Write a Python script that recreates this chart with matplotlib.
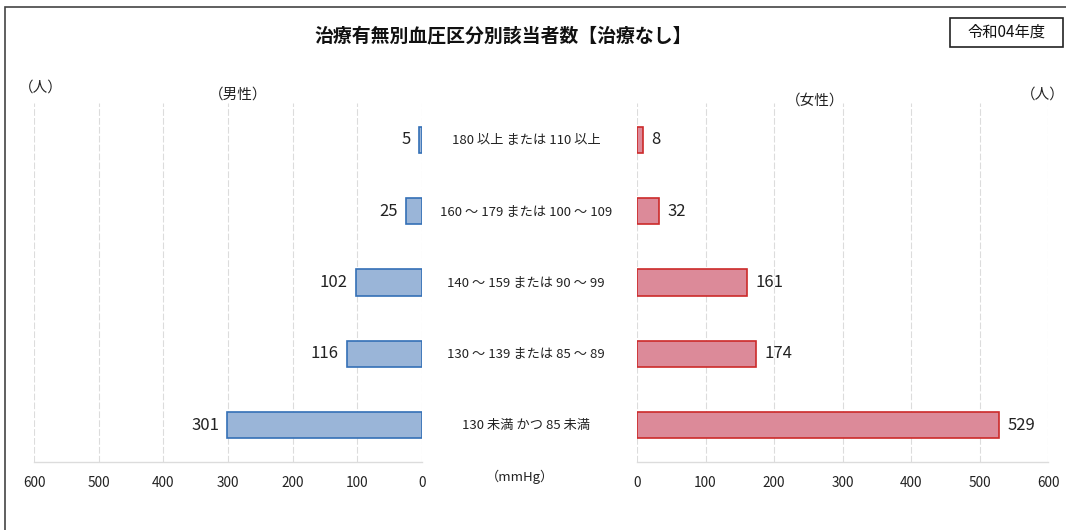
import matplotlib
matplotlib.use("Agg")
from matplotlib import pyplot as plt
from matplotlib.patches import Rectangle

plt.rcParams['font.family'] = ['Noto Sans CJK JP', 'DejaVu Sans']

# categories listed top to bottom
categories = ["180 以上 または 110 以上",
              "160 ～ 179 または 100 ～ 109",
              "140 ～ 159 または 90 ～ 99",
              "130 ～ 139 または 85 ～ 89",
              "130 未満 かつ 85 未満"]
male = [5, 25, 102, 116, 301]
female = [8, 32, 161, 174, 529]
ticks = [0, 100, 200, 300, 400, 500, 600]

title = "治療有無別血圧区分別該当者数【治療なし】"
year_label = "令和04年度"

BLUE_FILL = "#9ab5d8"
BLUE_EDGE = "#3470b6"
PINK_FILL = "#dc8a99"
PINK_EDGE = "#cc2a2a"
GRID = "#dcdcdc"

fig = plt.figure(figsize=(10.66, 5.30), dpi=100)
fig.patch.set_facecolor("white")

ax_l = fig.add_axes([0.032, 0.128, 0.364, 0.678])
ax_r = fig.add_axes([0.5976, 0.128, 0.3856, 0.678])

n = len(categories)
ypos = [n - 1 - i for i in range(n)]

ax_l.barh(ypos, male, height=0.37, color=BLUE_FILL, edgecolor=BLUE_EDGE, linewidth=1.2)
ax_r.barh(ypos, female, height=0.37, color=PINK_FILL, edgecolor=PINK_EDGE, linewidth=1.2)

ax_l.set_xlim(600, 0)
ax_r.set_xlim(0, 600)
for ax in (ax_l, ax_r):
    ax.set_ylim(-0.52, n - 0.48)
    ax.set_xticks(ticks)
    ax.set_xticklabels([str(t) for t in ticks], fontsize=9.8, color="#222222")
    ax.tick_params(axis="x", length=0, pad=10)
    ax.set_yticks([])
    for s in ("left", "right", "top"):
        ax.spines[s].set_visible(False)
    ax.spines["bottom"].set_color(GRID)
    ax.spines["bottom"].set_linewidth(1.0)
    ax.grid(axis="x", color=GRID, linewidth=0.8, linestyle=(0, (6, 2)))
    ax.set_axisbelow(True)

for y, v in zip(ypos, male):
    ax_l.annotate(str(v), xy=(v, y), xytext=(-6, 0), textcoords="offset points",
                  ha="right", va="center", fontsize=12, color="#222222")
for y, v in zip(ypos, female):
    ax_r.annotate(str(v), xy=(v, y), xytext=(6, 0), textcoords="offset points",
                  ha="left", va="center", fontsize=12, color="#222222")

# category labels in the gap between the two panels
for y, c in zip(ypos, categories):
    ax_r.annotate(c, xy=(0, y), xycoords=("axes fraction", "data"),
                  xytext=(-80, 0), textcoords="offset points",
                  ha="center", va="center", fontsize=9.5, color="#222222")

fig.text(0.488, 0.101, "（mmHg）", ha="center", va="center", fontsize=9.5, color="#222222")

fig.text(0.472, 0.933, title, ha="center", va="center", fontsize=13.6, fontweight="bold", color="#111111")

# year box
fig.patches.append(Rectangle((950 / 1066, 1 - 47 / 530), 113 / 1066, 29 / 530,
                             transform=fig.transFigure, facecolor="white",
                             edgecolor="#222222", linewidth=1.2))
fig.text(1006 / 1066, 1 - 32 / 530, year_label, ha="center", va="center",
         fontsize=11, color="#111111")

fig.text(0.038, 0.834, "（人）", ha="center", va="center", fontsize=10.5, color="#222222")
fig.text(0.223, 0.821, "（男性）", ha="center", va="center", fontsize=10.5, color="#222222")
fig.text(0.765, 0.810, "（女性）", ha="center", va="center", fontsize=10.5, color="#222222")
fig.text(0.978, 0.821, "（人）", ha="center", va="center", fontsize=10.5, color="#222222")

# outer frame
fig.patches.append(Rectangle((0.005, -0.05), 1.2, 1.037, transform=fig.transFigure,
                             facecolor="none", edgecolor="#444444", linewidth=1.2))

fig.savefig("out.png", dpi=100)
